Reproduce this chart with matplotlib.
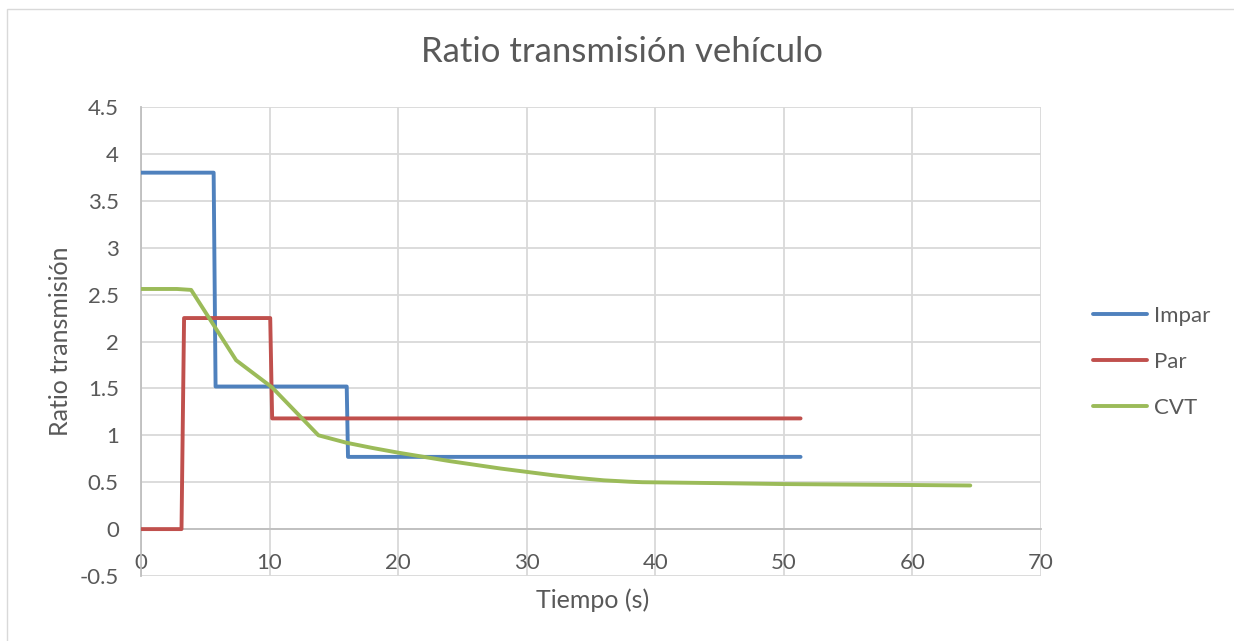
import matplotlib
matplotlib.use('Agg')
import matplotlib.pyplot as plt
from matplotlib.patches import Rectangle

plt.rcParams['font.family'] = ['Lato', 'DejaVu Sans']

# step series (time in s, ratio)
impar_t = [0, 5.65, 5.8, 16.0, 16.1, 51.3]
impar_r = [3.80, 3.80, 1.52, 1.52, 0.77, 0.77]

par_t = [0, 3.15, 3.35, 10.05, 10.2, 51.3]
par_r = [0.0, 0.0, 2.25, 2.25, 1.18, 1.18]

cvt_t = [0, 2.8, 3.9, 7.4, 10.2, 13.8, 16, 18, 20, 22, 24, 26, 28, 30,
         32, 34, 36, 38, 39, 45, 50, 55, 60, 64.5]
cvt_r = [2.56, 2.56, 2.55, 1.80, 1.51, 1.00, 0.92, 0.865, 0.815, 0.77,
         0.725, 0.685, 0.645, 0.61, 0.575, 0.545, 0.52, 0.505, 0.50,
         0.49, 0.48, 0.475, 0.47, 0.465]

series_names = ['Impar', 'Par', 'CVT']
series_colors = ['#4f81bd', '#c0504d', '#9bbb59']

x_ticks = list(range(0, 71, 10))
y_ticks = [-0.5, 0, 0.5, 1, 1.5, 2, 2.5, 3, 3.5, 4, 4.5]

TEXT = '#595959'
GRID = '#d9d9d9'
AXIS = '#bfbfbf'

fig = plt.figure(figsize=(12.34, 6.41), dpi=100)
fig.patches.append(Rectangle((7 / 1234, -0.1), 1.2, 1 - 9 / 641 + 0.1,
                             transform=fig.transFigure, fill=False,
                             ec=GRID, lw=1))
ax = fig.add_axes([141 / 1234, 65 / 641, 900 / 1234, 469 / 641])

for t, r, name, col in zip([impar_t, par_t, cvt_t], [impar_r, par_r, cvt_r],
                           series_names, series_colors):
    ax.plot(t, r, color=col, lw=2.8, label=name,
            solid_capstyle='round', solid_joinstyle='round', zorder=3)

ax.set_xlim(0, 70)
ax.set_ylim(-0.5, 4.5)
ax.set_xticks(x_ticks)
ax.set_yticks(y_ticks)
ax.set_yticklabels([f'{v:g}' for v in y_ticks])
ax.grid(True, color=GRID, lw=1.3, zorder=0)
ax.set_axisbelow(True)

for s in ['top', 'right']:
    ax.spines[s].set_visible(False)
ax.spines['bottom'].set_position(('data', 0))
ax.spines['bottom'].set_color(AXIS)
ax.spines['bottom'].set_linewidth(1.3)
ax.spines['left'].set_color(AXIS)
ax.spines['left'].set_linewidth(1.3)
ax.tick_params(axis='x', length=0, pad=17, labelsize=16, labelcolor=TEXT)
ax.tick_params(axis='y', length=0, pad=16, labelsize=16, labelcolor=TEXT)

fig.text(622 / 1234, 1 - 52 / 641, 'Ratio transmisión vehículo',
         ha='center', va='center', fontsize=25, color=TEXT)
fig.text(593 / 1234, 1 - 600 / 641, 'Tiempo (s)', ha='center', va='center',
         fontsize=18, color=TEXT)
fig.text(60 / 1234, 1 - 341 / 641, 'Ratio transmisión', ha='center',
         va='center', rotation=90, fontsize=18, color=TEXT)

leg = fig.legend(loc='center left', bbox_to_anchor=(1073 / 1234, 1 - 361.7 / 641),
                 frameon=False, fontsize=16, handlelength=2.45,
                 handletextpad=0.3, labelspacing=1.17, labelcolor=TEXT)

fig.savefig('out.png', dpi=100)
